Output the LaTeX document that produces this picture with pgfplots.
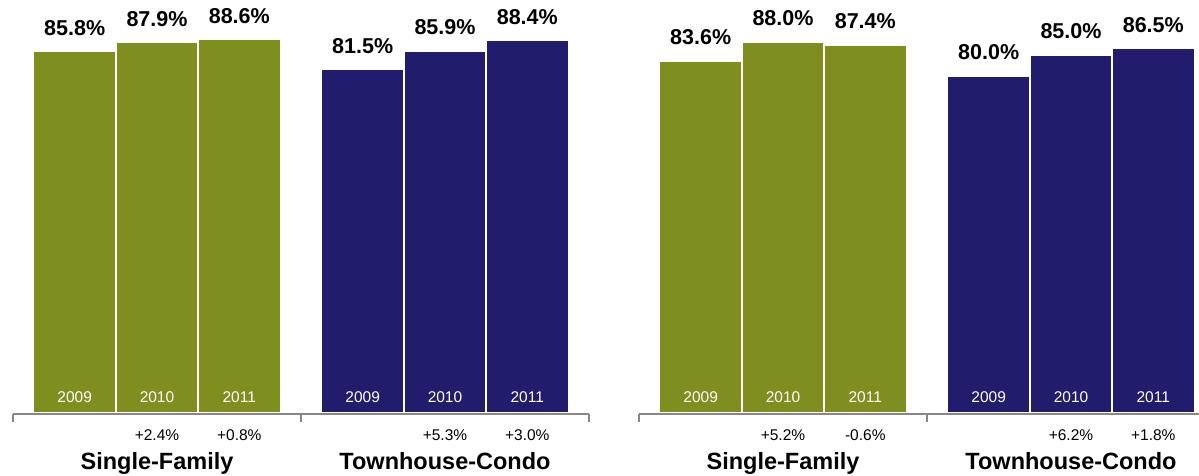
\documentclass[border=0pt]{standalone}
\usepackage{fontspec}
\setmainfont{Liberation Sans}
\usepackage{pgfplots}
\pgfplotsset{compat=1.18}
\definecolor{barolive}{RGB}{127,143,31}
\definecolor{barnavy}{RGB}{33,28,107}
\definecolor{brgray}{RGB}{135,135,135}

\tikzset{
  yr/.style={anchor=base, yshift=10pt, inner sep=0pt, text=white, font=\fontsize{15.5pt}{18pt}\selectfont},
  chg/.style={anchor=base, yshift=-27.3pt, inner sep=0pt, text=black, font=\fontsize{15.5pt}{18pt}\selectfont},
  grp/.style={anchor=base, yshift=-56.3pt, inner sep=0pt, text=black, font=\bfseries\fontsize{23.5pt}{28pt}\selectfont},
}

\pgfplotsset{panel/.style={
  scale only axis, width=576pt, height=412.6pt,
  xmin=-0.75, xmax=6.25, ymin=-0.3, ymax=97.7,
  axis x line*=bottom, axis y line=none,
  x axis line style={-, brgray, line width=2.6pt},
  xtick={-0.75,2.75,6.25}, xticklabels={},
  tick align=outside, major tick length=8.5pt,
  major tick style={brgray, line width=2.6pt},
  ytick=\empty,
  clip=false,
  ybar, bar width=1, /pgf/bar shift=0pt,
  /pgf/number format/assume math mode=true,
  nodes near coords={\pgfmathprintnumber[fixed,fixed zerofill,precision=1]{\pgfplotspointmeta}\%},
  every node near coord/.append style={font=\bfseries\fontsize{21.5pt}{25pt}\selectfont, anchor=base, yshift=16.5pt, inner sep=0pt, text=black},
}}

\begin{document}
\begin{tikzpicture}
\useasboundingbox (0,0) rectangle (1199pt,476pt);

% Left panel
\begin{axis}[panel, at={(13pt,62pt)}, anchor=south west]
\addplot[fill=barolive, draw=white, line width=1.5pt] coordinates {(0,85.8) (1,87.9) (2,88.6)};
\addplot[fill=barnavy, draw=white, line width=1.5pt] coordinates {(3.5,81.5) (4.5,85.9) (5.5,88.4)};
\node[yr] at (axis cs:0,0) {2009};
\node[yr] at (axis cs:1,0) {2010};
\node[yr] at (axis cs:2,0) {2011};
\node[yr] at (axis cs:3.5,0) {2009};
\node[yr] at (axis cs:4.5,0) {2010};
\node[yr] at (axis cs:5.5,0) {2011};
\node[chg] at (axis cs:1,0) {+2.4\%};
\node[chg] at (axis cs:2,0) {+0.8\%};
\node[chg] at (axis cs:4.5,0) {+5.3\%};
\node[chg] at (axis cs:5.5,0) {+3.0\%};
\node[grp] at (axis cs:1,0) {Single-Family};
\node[grp] at (axis cs:4.5,0) {Townhouse-Condo};
\end{axis}

% Right panel
\begin{axis}[panel, at={(639pt,62pt)}, anchor=south west]
\addplot[fill=barolive, draw=white, line width=1.5pt] coordinates {(0,83.6) (1,88.0) (2,87.4)};
\addplot[fill=barnavy, draw=white, line width=1.5pt] coordinates {(3.5,80.0) (4.5,85.0) (5.5,86.5)};
\node[yr] at (axis cs:0,0) {2009};
\node[yr] at (axis cs:1,0) {2010};
\node[yr] at (axis cs:2,0) {2011};
\node[yr] at (axis cs:3.5,0) {2009};
\node[yr] at (axis cs:4.5,0) {2010};
\node[yr] at (axis cs:5.5,0) {2011};
\node[chg] at (axis cs:1,0) {+5.2\%};
\node[chg] at (axis cs:2,0) {-0.6\%};
\node[chg] at (axis cs:4.5,0) {+6.2\%};
\node[chg] at (axis cs:5.5,0) {+1.8\%};
\node[grp] at (axis cs:1,0) {Single-Family};
\node[grp] at (axis cs:4.5,0) {Townhouse-Condo};
\end{axis}
\end{tikzpicture}
\end{document}
